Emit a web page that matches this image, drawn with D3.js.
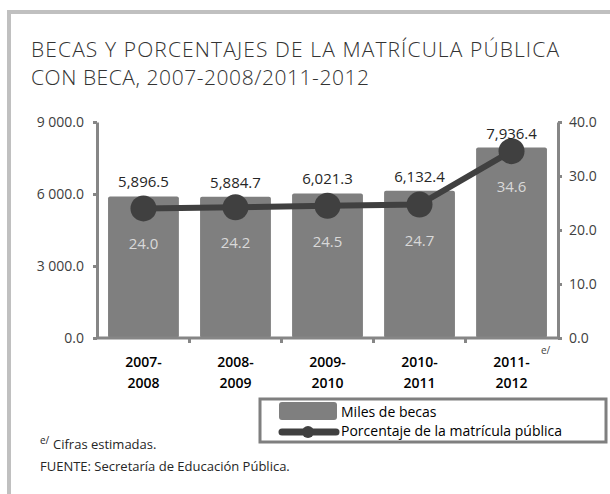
<!DOCTYPE html>
<html>
<head>
<meta charset="utf-8">
<script src="https://cdn.jsdelivr.net/npm/d3@7"></script>
<style>
  body { margin: 0; background: #fff; }
  text { font-family: "Open Sans", "Noto Sans", sans-serif; }
</style>
</head>
<body>
<svg width="610" height="494"></svg>
<script>
// data
var periods = ['2007-2008', '2008-2009', '2009-2010', '2010-2011', '2011-2012'];
var becas = [5896.5, 5884.7, 6021.3, 6132.4, 7936.4];
var porcentaje = [24.0, 24.2, 24.5, 24.7, 34.6];
var leftTicks = [0, 3000, 6000, 9000];
var rightTicks = [0, 10, 20, 30, 40];

var svg = d3.select('svg');
var plotTop = 122, plotBottom = 338, plotLeft = 97, plotRight = 558;

// frame
svg.append('path')
  .attr('d', 'M9,494 V12 H612')
  .attr('fill', 'none')
  .attr('stroke', '#c0c0c0')
  .attr('stroke-width', 4);

// title
var title = svg.append('text')
  .attr('font-size', 21)
  .attr('font-weight', 300)
  .attr('fill', '#333');
title.append('tspan').attr('x', 31).attr('y', 57)
  .attr('textLength', 528)
  .text('BECAS Y PORCENTAJES  DE LA MATRÍCULA PÚBLICA');
title.append('tspan').attr('x', 31).attr('y', 85)
  .attr('textLength', 338)
  .text('CON BECA,  2007-2008/2011-2012');

var x = d3.scaleBand().domain(periods).range([plotLeft, plotRight])
  .paddingInner(0.23).paddingOuter(0.12);
var yL = d3.scaleLinear().domain([0, 9000]).range([plotBottom, plotTop]);
var yR = d3.scaleLinear().domain([0, 40]).range([plotBottom, plotTop]);

var fmt = d3.format(',.1f');
var fmtAxis = function(d) { return d3.format(',.1f')(d).replace(',', ' '); };

// bars
svg.selectAll('rect.bar')
  .data(becas)
  .enter().append('rect')
  .attr('class', 'bar')
  .attr('x', function(d, i) { return x(periods[i]); })
  .attr('y', function(d) { return yL(d); })
  .attr('width', x.bandwidth())
  .attr('height', function(d) { return plotBottom - yL(d); })
  .attr('rx', 2)
  .attr('fill', '#7f7f7f');

// axes
var axisColor = '#868686';
var gl = svg.append('g').attr('transform', 'translate(' + plotLeft + ',0)')
  .call(d3.axisLeft(yL).tickValues(leftTicks).tickSize(4).tickSizeOuter(0).tickFormat(fmtAxis));
var gr = svg.append('g').attr('transform', 'translate(' + plotRight + ',0)')
  .call(d3.axisRight(yR).tickValues(rightTicks).tickSize(4).tickSizeOuter(0).tickFormat(d3.format('.1f')));
[gl, gr].forEach(function(g) {
  g.select('.domain').attr('stroke', axisColor).attr('stroke-width', 3);
  g.selectAll('.tick line').attr('stroke', axisColor).attr('stroke-width', 3);
  g.selectAll('.tick text').attr('font-size', 14).attr('fill', '#404040')
    .attr('font-family', '"Open Sans", sans-serif');
});
gl.selectAll('.tick text').attr('x', -13);
gr.selectAll('.tick text').attr('x', 11);

// x axis with ticks between categories
svg.append('line')
  .attr('x1', plotLeft).attr('x2', plotRight).attr('y1', plotBottom).attr('y2', plotBottom)
  .attr('stroke', axisColor).attr('stroke-width', 3);
var bounds = periods.slice(1).map(function(p) { return x(p) - x.step() * x.paddingInner() / 2; });
svg.selectAll('line.xtick')
  .data(bounds)
  .enter().append('line')
  .attr('class', 'xtick')
  .attr('x1', function(d) { return d; }).attr('x2', function(d) { return d; })
  .attr('y1', plotBottom).attr('y2', plotBottom + 5)
  .attr('stroke', axisColor).attr('stroke-width', 3);

var cat = svg.selectAll('text.cat')
  .data(periods)
  .enter().append('text')
  .attr('class', 'cat')
  .attr('text-anchor', 'middle')
  .attr('font-size', 14)
  .attr('font-weight', 600)
  .attr('fill', '#000');
cat.append('tspan')
  .attr('x', function(d) { return x(d) + x.bandwidth() / 2; })
  .attr('y', 367)
  .text(function(d) { return d.split('-')[0] + '-'; });
cat.append('tspan')
  .attr('x', function(d) { return x(d) + x.bandwidth() / 2; })
  .attr('y', 388)
  .text(function(d) { return d.split('-')[1]; });

svg.append('text')
  .attr('x', 541).attr('y', 354)
  .attr('font-size', 10).attr('fill', '#404040')
  .text('e/');

// line
var cx = function(d, i) { return x(periods[i]) + x.bandwidth() / 2; };
svg.append('path')
  .datum(porcentaje)
  .attr('d', d3.line().x(cx).y(function(d) { return yR(d); }))
  .attr('fill', 'none')
  .attr('stroke', '#404040')
  .attr('stroke-width', 6);
svg.selectAll('circle.pt')
  .data(porcentaje)
  .enter().append('circle')
  .attr('class', 'pt')
  .attr('cx', cx)
  .attr('cy', function(d) { return yR(d); })
  .attr('r', 13)
  .attr('fill', '#404040');

// value labels
svg.selectAll('text.bv')
  .data(becas)
  .enter().append('text')
  .attr('class', 'bv')
  .attr('x', cx)
  .attr('y', function(d) { return yL(d) - 9; })
  .attr('text-anchor', 'middle')
  .attr('font-size', 15)
  .attr('fill', '#262626')
  .text(function(d) { return fmt(d); });
svg.selectAll('text.pv')
  .data(porcentaje)
  .enter().append('text')
  .attr('class', 'pv')
  .attr('x', cx)
  .attr('y', function(d) { return yR(d) + 41; })
  .attr('text-anchor', 'middle')
  .attr('font-size', 15)
  .attr('fill', '#d9d9d9')
  .text(function(d) { return d3.format('.1f')(d); });

// legend
var lg = svg.append('g');
lg.append('rect')
  .attr('x', 260).attr('y', 399).attr('width', 346).attr('height', 43)
  .attr('fill', '#fff').attr('stroke', '#7f7f7f').attr('stroke-width', 3);
lg.append('rect')
  .attr('x', 279).attr('y', 402).attr('width', 58).attr('height', 18).attr('rx', 3)
  .attr('fill', '#7f7f7f');
lg.append('line')
  .attr('x1', 282).attr('x2', 336).attr('y1', 432).attr('y2', 432)
  .attr('stroke', '#404040').attr('stroke-width', 7).attr('stroke-linecap', 'round');
lg.append('circle').attr('cx', 308).attr('cy', 432).attr('r', 6).attr('fill', '#404040');
lg.append('text').attr('x', 341).attr('y', 417).attr('font-size', 14).attr('fill', '#000')
  .text('Miles de becas');
lg.append('text').attr('x', 341).attr('y', 436).attr('font-size', 14).attr('fill', '#000')
  .text('Porcentaje de la matrícula  pública');

// notes
svg.append('text').attr('x', 40).attr('y', 444).attr('font-size', 10).attr('fill', '#262626')
  .text('e/');
svg.append('text').attr('x', 53).attr('y', 449).attr('font-size', 13).attr('fill', '#262626')
  .text('Cifras estimadas.');
svg.append('text').attr('x', 40).attr('y', 471).attr('font-size', 13).attr('fill', '#262626')
  .text('FUENTE: Secretaría de Educación Pública.');
</script>
</body>
</html>
